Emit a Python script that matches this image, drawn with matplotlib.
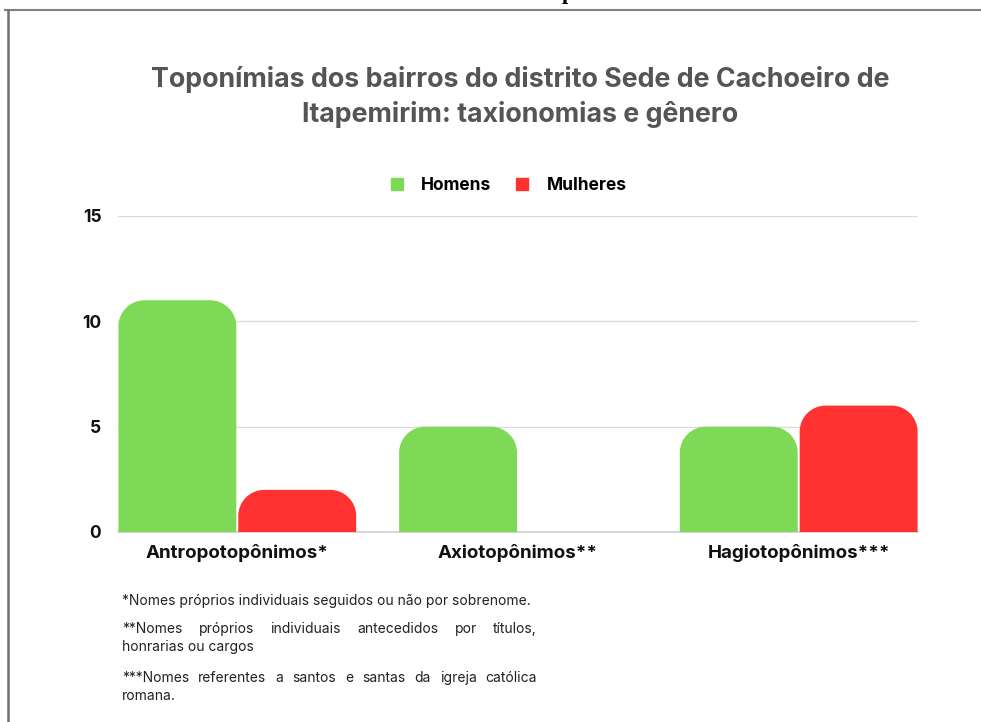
import matplotlib
matplotlib.use("Agg")
import matplotlib.pyplot as plt
from matplotlib.path import Path
from matplotlib.patches import PathPatch
from matplotlib.lines import Line2D

categories = ["Antropotopônimos*", "Axiotopônimos**", "Hagiotopônimos***"]
homens = [11, 5, 5]
mulheres = [2, 0, 6]
series_names = ["Homens", "Mulheres"]
colors = ["#7ED957", "#FF3131"]
yticks = [0, 5, 10, 15]

title = "Toponímias dos bairros do distrito Sede de Cachoeiro de\nItapemirim: taxionomias e gênero"
notes = [
    ("*Nomes próprios individuais seguidos ou não por sobrenome.", False),
    ("**Nomes próprios individuais antecedidos por títulos,", True),
    ("honrarias ou cargos", False),
    ("***Nomes referentes a santos e santas da igreja católica", True),
    ("romana.", False),
]
note_y = [601, 629, 647, 678, 696]

W, H = 981, 722
FONT = "Inter"

plt.rcParams["font.family"] = [FONT, "DejaVu Sans"]
fig = plt.figure(figsize=(W / 100, H / 100), dpi=100)
fig.patch.set_facecolor("white")


def fx(px):
    return px / W


def fy(py):
    return 1 - py / H


ax = fig.add_axes([fx(118), fy(532), fx(918) - fx(118), fy(216) - fy(532)])
ax.set_xlim(-0.425, 2.425)
ax.set_ylim(0, 15)
ax.set_yticks(yticks)
ax.set_yticklabels([str(t) for t in yticks], fontsize=12.5, fontweight="bold", color="#111111")
ax.set_xticks(range(len(categories)))
ax.set_xticklabels(categories, fontsize=13.5, fontweight="bold", color="#111111")
ax.tick_params(axis="both", length=0)
ax.tick_params(axis="y", pad=12)
ax.tick_params(axis="x", pad=9)
for s in ["top", "right", "left"]:
    ax.spines[s].set_visible(False)
ax.spines["bottom"].set_color("#d0d0d0")
ax.spines["bottom"].set_linewidth(1.2)
ax.grid(axis="y", color="#dcdcdc", linewidth=1)
ax.set_axisbelow(True)

# pixel scale for rounded corners
px_x = (918 - 118) / 2.85
px_y = (532 - 216) / 15
radius = 26
w = 0.42
g = 0.007


def rounded_bar(x_center, h, color):
    if h <= 0:
        return
    x0, x1 = x_center - w / 2, x_center + w / 2
    rx = radius / px_x
    ry = min(radius / px_y, h)
    k = 0.5523
    verts = [
        (x0, 0), (x0, h - ry),
        (x0, h - ry + k * ry), (x0 + rx - k * rx, h), (x0 + rx, h),
        (x1 - rx, h),
        (x1 - rx + k * rx, h), (x1, h - ry + k * ry), (x1, h - ry),
        (x1, 0), (x0, 0),
    ]
    codes = [Path.MOVETO, Path.LINETO,
             Path.CURVE4, Path.CURVE4, Path.CURVE4,
             Path.LINETO,
             Path.CURVE4, Path.CURVE4, Path.CURVE4,
             Path.LINETO, Path.CLOSEPOLY]
    ax.add_patch(PathPatch(Path(verts, codes), facecolor=color, edgecolor="none", zorder=3))


for i in range(len(categories)):
    rounded_bar(i - w / 2 - g / 2, homens[i], colors[0])
    rounded_bar(i + w / 2 + g / 2, mulheres[i], colors[1])

# title and legend
fig.text(fx(520), fy(97), title, ha="center", va="center", fontsize=19.3,
         fontweight="bold", color="#555555", linespacing=1.4)
handles = [Line2D([], [], marker="s", linestyle="none", markersize=8,
                  markerfacecolor=c, markeredgecolor=c) for c in colors]
fig.legend(handles, series_names, loc="center", bbox_to_anchor=(fx(503), fy(186)),
           ncol=2, frameon=False, prop={"family": FONT, "weight": "bold", "size": 12.5},
           handletextpad=0.4, columnspacing=0.8)

# footnotes (justified where the original is)
renderer = fig.canvas.get_renderer()
x_left, x_right = 122, 537
for (line, justify), y in zip(notes, note_y):
    if not justify:
        fig.text(fx(x_left), fy(y), line, ha="left", va="center", fontsize=10, color="#222222")
        continue
    words = line.split(" ")
    texts = [fig.text(0, fy(y), wd, ha="left", va="center", fontsize=10, color="#222222") for wd in words]
    widths = [t.get_window_extent(renderer).width for t in texts]
    gap = (x_right - x_left - sum(widths)) / (len(words) - 1)
    xpos = x_left
    for t, wd in zip(texts, widths):
        t.set_x(fx(xpos))
        xpos += wd + gap

# page frame and cut-off caption
fig.add_artist(Line2D([fx(5), 1], [fy(10), fy(10)], color="#808080", linewidth=1.5))
fig.add_artist(Line2D([fx(8), fx(8)], [fy(10), 0], color="#707070", linewidth=1.8))
fig.text(fx(562), fy(-1), "p", ha="left", va="baseline", fontsize=16, fontweight="bold",
         family="Liberation Serif", color="black")

fig.savefig("out.png", dpi=100)
